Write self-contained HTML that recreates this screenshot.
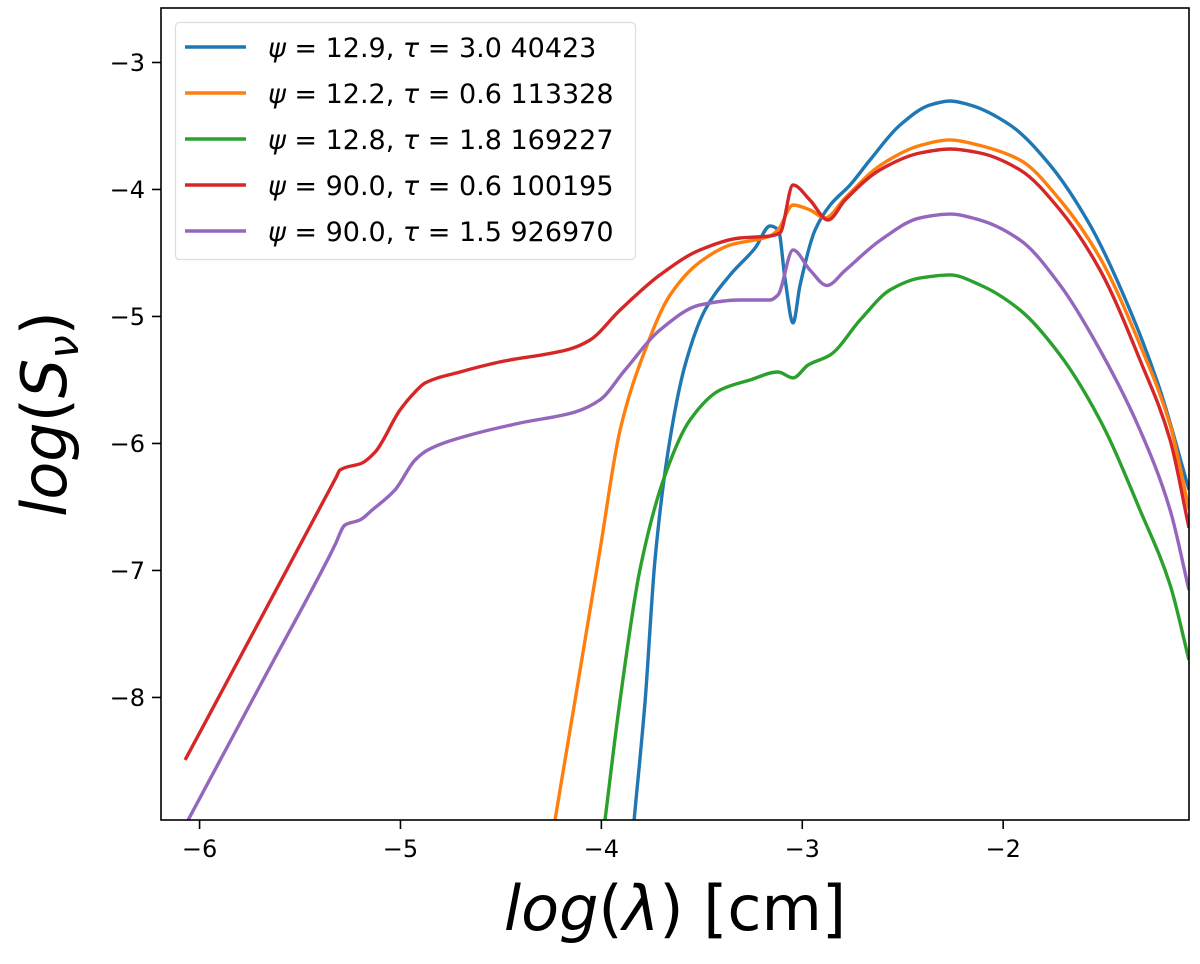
<!DOCTYPE html>
<html><head><meta charset="utf-8"><style>
body{margin:0;background:#fff;}
svg text{font-family:"DejaVu Sans","Liberation Sans",sans-serif;}
</style></head><body>
<svg id="chart" width="1200" height="959" xmlns="http://www.w3.org/2000/svg">
<defs><clipPath id="clip"><rect x="161" y="8" width="1028" height="812"/></clipPath></defs>
<rect x="0" y="0" width="1200" height="959" fill="#fff"/>
<g id="series" clip-path="url(#clip)"></g>
<rect x="161" y="8" width="1028" height="812" fill="none" stroke="#000" stroke-width="1.6"/>
<g id="xticks"></g>
<g id="yticks"></g>
<text x="675" y="930" font-size="62" text-anchor="middle"><tspan font-style="italic">log</tspan>(<tspan font-style="italic">λ</tspan>) [cm]</text>
<text transform="translate(66,414) rotate(-90)" font-size="62" text-anchor="middle"><tspan font-style="italic">log</tspan>(<tspan font-style="italic">S</tspan><tspan font-style="italic" font-size="42" dy="12">ν</tspan><tspan dy="-12">)</tspan></text>
<g id="legend"></g>
</svg>
<script>
const xTicks=[-6,-5,-4,-3,-2];
const yTicks=[-3,-4,-5,-6,-7,-8];
const seriesNames=["ψ = 12.9, τ = 3.0 40423","ψ = 12.2, τ = 0.6 113328","ψ = 12.8, τ = 1.8 169227","ψ = 90.0, τ = 0.6 100195","ψ = 90.0, τ = 1.5 926970"];
const colors=["#1f77b4","#ff7f0e","#2ca02c","#d62728","#9467bd"];
const blueX=[-3.837,-3.782,-3.733,-3.667,-3.583,-3.484,-3.359,-3.235,-3.160,-3.119,-3.085,-3.046,-3.011,-2.936,-2.861,-2.762,-2.663,-2.513,-2.364,-2.264,-2.165,-1.966,-1.767,-1.568,-1.369,-1.219,-1.075];
const blueY=[-8.965,-8.02,-6.917,-6.051,-5.382,-4.949,-4.673,-4.461,-4.287,-4.319,-4.713,-5.051,-4.752,-4.319,-4.122,-3.965,-3.768,-3.492,-3.335,-3.303,-3.335,-3.492,-3.807,-4.280,-4.949,-5.579,-6.366];
const orangeX=[-4.231,-4.131,-4.007,-3.907,-3.782,-3.658,-3.509,-3.359,-3.160,-3.121,-3.046,-2.962,-2.887,-2.787,-2.613,-2.414,-2.264,-2.115,-1.916,-1.717,-1.518,-1.319,-1.169,-1.075];
const orangeY=[-8.965,-8.02,-6.839,-5.894,-5.264,-4.831,-4.571,-4.437,-4.366,-4.319,-4.122,-4.161,-4.224,-4.067,-3.811,-3.654,-3.610,-3.654,-3.768,-4.083,-4.539,-5.224,-5.854,-6.52];
const greenX=[-3.982,-3.907,-3.808,-3.683,-3.559,-3.409,-3.260,-3.121,-3.046,-2.971,-2.861,-2.712,-2.563,-2.414,-2.264,-2.115,-1.916,-1.717,-1.518,-1.319,-1.169,-1.075];
const greenY=[-8.965,-8.02,-6.996,-6.248,-5.815,-5.579,-5.500,-5.437,-5.484,-5.382,-5.303,-5.028,-4.791,-4.697,-4.673,-4.752,-4.949,-5.303,-5.815,-6.524,-7.114,-7.705];
const redX=[-6.072,-5.686,-5.320,-5.301,-5.191,-5.126,-5.002,-4.927,-4.878,-4.703,-4.504,-4.156,-4.056,-3.907,-3.708,-3.509,-3.310,-3.160,-3.111,-3.046,-2.962,-2.872,-2.787,-2.613,-2.414,-2.264,-2.115,-1.916,-1.717,-1.518,-1.319,-1.169,-1.075];
const redY=[-8.492,-7.350,-6.266,-6.209,-6.154,-6.067,-5.736,-5.594,-5.524,-5.437,-5.358,-5.256,-5.185,-4.949,-4.673,-4.476,-4.382,-4.366,-4.343,-3.965,-4.083,-4.240,-4.083,-3.846,-3.713,-3.681,-3.713,-3.846,-4.161,-4.634,-5.343,-5.972,-6.665];
const purpleX=[-6.057,-5.690,-5.345,-5.326,-5.276,-5.201,-5.141,-5.027,-4.927,-4.863,-4.654,-4.405,-4.131,-4.007,-3.882,-3.708,-3.509,-3.310,-3.160,-3.121,-3.046,-2.962,-2.877,-2.787,-2.613,-2.414,-2.264,-2.115,-1.916,-1.717,-1.518,-1.319,-1.169,-1.075];
const purpleY=[-8.965,-7.880,-6.860,-6.799,-6.642,-6.602,-6.524,-6.366,-6.130,-6.051,-5.933,-5.839,-5.752,-5.657,-5.421,-5.106,-4.909,-4.870,-4.870,-4.831,-4.476,-4.634,-4.756,-4.637,-4.402,-4.224,-4.194,-4.241,-4.398,-4.752,-5.264,-5.894,-6.524,-7.154];
const seriesX=[blueX,orangeX,greenX,redX,purpleX];
const seriesY=[blueY,orangeY,greenY,redY,purpleY];
const seriesKeys=["blue","orange","green","red","purple"];

const NS="http://www.w3.org/2000/svg";
const X0=161,X1=1189,Y0=820,Y1=8;
const xMin=-6.192,xMax=-1.075,yMin=-8.965,yMax=-2.571;
function sx(v){return X0+(v-xMin)/(xMax-xMin)*(X1-X0);}
function sy(v){return Y0-(v-yMin)/(yMax-yMin)*(Y0-Y1);}
function mk(tag,attrs,parent){const e=document.createElementNS(NS,tag);for(const k in attrs)e.setAttribute(k,attrs[k]);parent.appendChild(e);return e;}
function smoothPath(xs,ys){
  const X=xs.map(sx),Y=ys.map(sy),n=X.length;
  const d=[],m=new Array(n);
  for(let i=0;i<n-1;i++)d.push((Y[i+1]-Y[i])/(X[i+1]-X[i]));
  m[0]=d[0];m[n-1]=d[n-2];
  for(let i=1;i<n-1;i++){
    if(d[i-1]*d[i]<=0)m[i]=0;
    else{const h0=X[i]-X[i-1],h1=X[i+1]-X[i];const w1=2*h1+h0,w2=h1+2*h0;m[i]=(w1+w2)/(w1/d[i-1]+w2/d[i]);}
  }
  let p="M"+X[0].toFixed(1)+","+Y[0].toFixed(1);
  for(let i=0;i<n-1;i++){
    const h=(X[i+1]-X[i])/3;
    p+="C"+(X[i]+h).toFixed(1)+","+(Y[i]+m[i]*h).toFixed(1)+" "+(X[i+1]-h).toFixed(1)+","+(Y[i+1]-m[i+1]*h).toFixed(1)+" "+X[i+1].toFixed(1)+","+Y[i+1].toFixed(1);
  }
  return p;
}
const sg=document.getElementById('series');
for(let i=0;i<seriesX.length;i++){
  const p=mk('path',{d:smoothPath(seriesX[i],seriesY[i]),fill:'none',stroke:colors[i],'stroke-width':3.4,'stroke-linejoin':'round'},sg);
  
  
}
const xg=document.getElementById('xticks');
xTicks.forEach(t=>{
  const x=sx(t);
  const l=mk('line',{x1:x,x2:x,y1:820,y2:829,stroke:'#000','stroke-width':1.6},xg);
  
  
  const tx=mk('text',{x:x,y:857,'font-size':24,'text-anchor':'middle'},xg);
  tx.textContent='\u2212'+Math.abs(t);
  
  
});
const yg=document.getElementById('yticks');
yTicks.forEach(t=>{
  const y=sy(t);
  const l=mk('line',{x1:152,x2:161,y1:y,y2:y,stroke:'#000','stroke-width':1.6},yg);
  
  
  const tx=mk('text',{x:145,y:y+8.5,'font-size':24,'text-anchor':'end'},yg);
  tx.textContent='\u2212'+Math.abs(t);
  
  
});
const lg=document.getElementById('legend');
const box=mk('rect',{x:175.5,y:22.5,width:460,height:237,rx:4,fill:'#fff','fill-opacity':0.85,stroke:'#ddd','stroke-width':1.2},lg);


seriesNames.forEach((n,i)=>{
  const y=47+i*46;
  const l=mk('line',{x1:185,x2:246,y1:y,y2:y,stroke:colors[i],'stroke-width':3.4},lg);
  
  
  const parts=n.split(' ');
  const tx=mk('text',{x:268,y:y+10,'font-size':27},lg);
  tx.innerHTML='<tspan font-style="italic">ψ</tspan> = '+n.slice(4,n.indexOf(','))+', <tspan font-style="italic">τ</tspan> = '+parts[5]+' '+parts[6];
  
  
});
</script>
</body></html>
